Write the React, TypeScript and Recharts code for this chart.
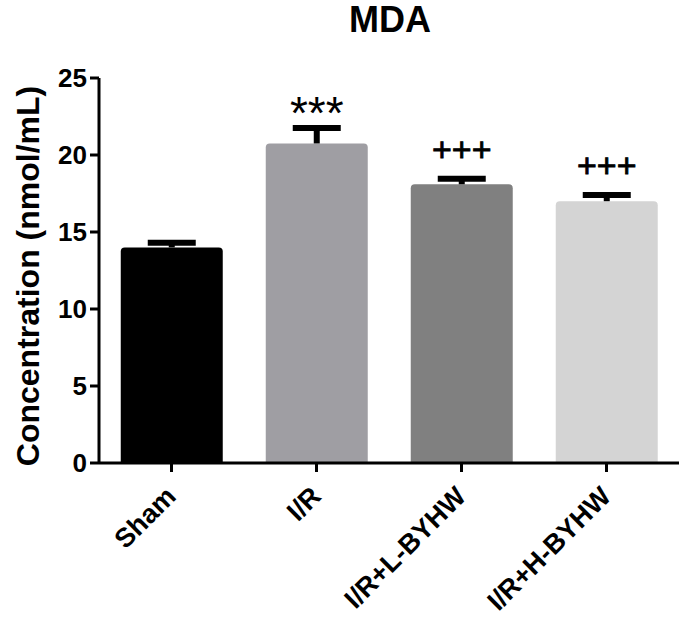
import { BarChart, Bar, XAxis, YAxis, Cell } from "recharts"

// groups and their MDA values (mean, upper SEM)
const groups = ["Sham", "I/R", "I/R+L-BYHW", "I/R+H-BYHW"]
const means = [14.0, 20.75, 18.1, 17.0]
const sems = [0.3, 1.0, 0.35, 0.4]
const marks = ["", "***", "+++", "+++"]
const yTicks = [0, 5, 10, 15, 20, 25]

const fills = ["#000000", "#9f9ea3", "#808080", "#d4d4d4"]
const FONT = "'Liberation Sans', Arial, Helvetica, sans-serif"

const data = groups.map((name, i) => ({
  name,
  mean: means[i],
  sem: sems[i],
  mark: marks[i],
}))

function BarWithError(props: any) {
  const { x, y, width, height, fill, payload } = props
  const pxPerUnit = height / payload.mean
  const capY = y - payload.sem * pxPerUnit
  const cx = x + width / 2
  const r = 4
  const path = `M${x},${y + height} L${x},${y + r} Q${x},${y} ${x + r},${y} L${x + width - r},${y} Q${x + width},${y} ${x + width},${y + r} L${x + width},${y + height} Z`
  const isStar = payload.mark.startsWith("*")
  return (
    <g>
      <path d={path} fill={fill} />
      <line x1={cx} x2={cx} y1={y} y2={capY} stroke="#000" strokeWidth={6} />
      <line x1={cx - 24} x2={cx + 24} y1={capY} y2={capY} stroke="#000" strokeWidth={6} />
      {payload.mark && (
        <text
          x={cx}
          y={isStar ? capY + 1 : capY - 18}
          textAnchor="middle"
          fontFamily={FONT}
          fontSize={isStar ? 46 : 34}
          stroke="#000"
          strokeWidth={isStar ? 0 : 0.8}
          fill="#000"
        >
          {payload.mark}
        </text>
      )}
    </g>
  )
}

function RotatedTick(props: any) {
  const { x, y, payload } = props
  const ax = x + 6
  const ay = y + 24
  return (
    <text
      x={ax}
      y={ay}
      transform={`rotate(-45, ${ax}, ${ay})`}
      textAnchor="end"
      fontFamily={FONT}
      fontWeight="bold"
      fontSize={27}
      fill="#000"
    >
      {payload.value}
    </text>
  )
}

export default function App() {
  return (
    <div style={{ position: "absolute", left: 0, top: 0, width: 683, height: 625, background: "#fff" }}>
      <div
        style={{
          position: "absolute",
          left: 290,
          top: 0,
          width: 200,
          textAlign: "center",
          fontFamily: FONT,
          fontWeight: "bold",
          fontSize: 36,
          lineHeight: "40px",
        }}
      >
        MDA
      </div>
      <BarChart
        width={683}
        height={625}
        data={data}
        margin={{ top: 78, right: 4, left: 0, bottom: 0 }}
        barCategoryGap="15%"
      >
        <XAxis
          dataKey="name"
          height={162}
          stroke="#000"
          strokeWidth={3}
          tickSize={9}
          tickLine={{ stroke: "#000", strokeWidth: 3 }}
          tick={<RotatedTick />}
          interval={0}
        />
        <YAxis
          width={99}
          domain={[0, 25]}
          ticks={yTicks}
          stroke="#000"
          strokeWidth={3}
          tickSize={9}
          tickMargin={3}
          tickLine={{ stroke: "#000", strokeWidth: 3 }}
          tick={{ fill: "#000", fontSize: 26, fontWeight: "bold", fontFamily: FONT }}
          label={{
            content: () => (
              <text
                x={39}
                y={276}
                transform="rotate(-90, 39, 276)"
                textAnchor="middle"
                fontFamily={FONT}
                fontWeight="bold"
                fontSize={32}
                fill="#000"
              >
                Concentration (nmol/mL)
              </text>
            ),
          }}
        />
        <Bar dataKey="mean" shape={<BarWithError />} isAnimationActive={false}>
          {data.map((d, i) => (
            <Cell key={d.name} fill={fills[i]} />
          ))}
        </Bar>
      </BarChart>
    </div>
  )
}
